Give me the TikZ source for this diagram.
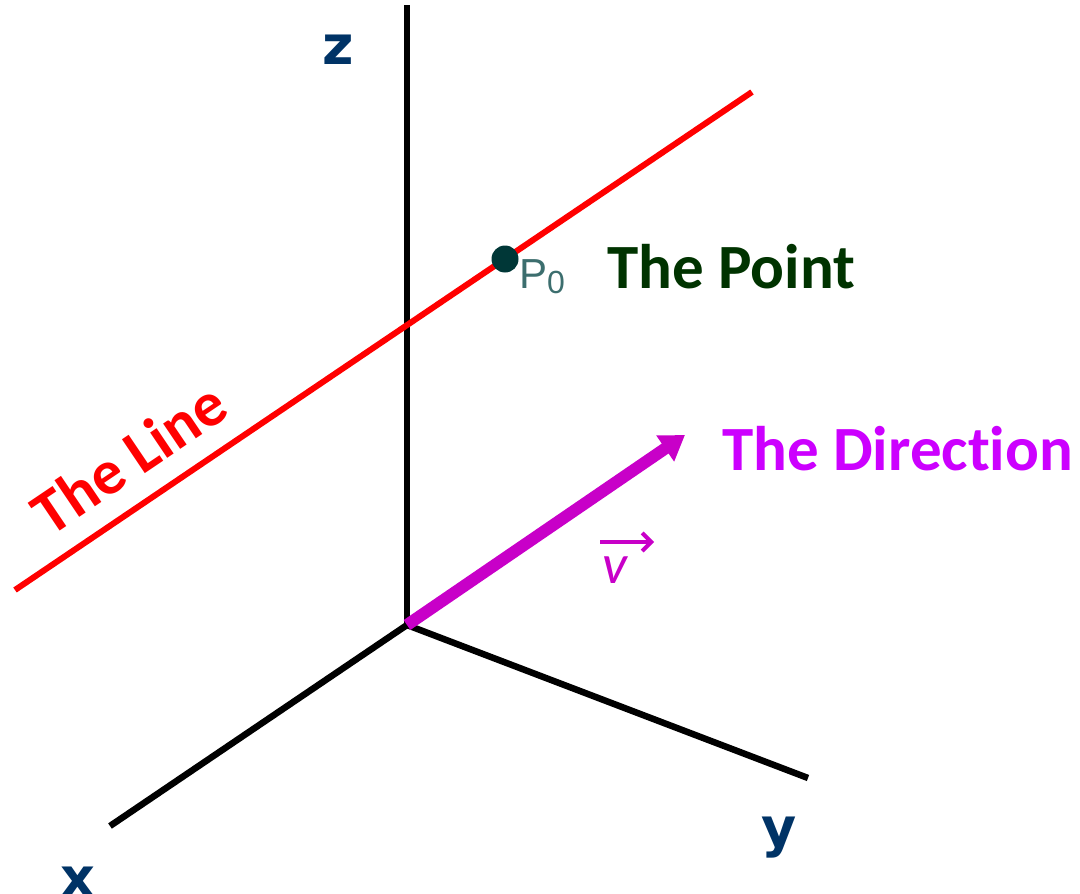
\documentclass[tikz,border=0pt]{standalone}
\usepackage{fontspec}
\setmainfont{Carlito}[Ligatures=NoCommon]
\newfontfamily\axisfont{DejaVu Sans}
\newfontfamily\labfont{Liberation Sans}
\usetikzlibrary{positioning, arrows.meta}
\definecolor{axisblue}{RGB}{0,51,102}
\definecolor{linered}{RGB}{255,0,0}
\definecolor{ptgreen}{RGB}{0,51,0}
\definecolor{dirmag}{RGB}{204,0,255}
\definecolor{vecmag}{RGB}{200,0,200}
\definecolor{ptdark}{RGB}{0,55,55}
\definecolor{ptteal}{RGB}{60,110,110}
\tikzset{
    axis/.style={line width=6.5pt, black},
    axislbl/.style={font=\axisfont\bfseries\fontsize{54}{54}\selectfont, text=axisblue, inner sep=0pt},
    theline/.style={line width=6pt, linered},
    dirvec/.style={-{Triangle[length=24pt,width=30pt]}, line width=12pt, vecmag},
    vecbar/.style={-{Straight Barb[length=9pt,width=18pt]}, line width=4pt, vecmag},
    bigtxt/.style={font=\bfseries\fontsize{63}{63}\selectfont, text=#1, inner sep=0pt}
}

\begin{document}
\begin{tikzpicture}[x=1pt, y=-1pt,
      ptdot/.style={circle, fill=ptdark, minimum size=27pt, inner sep=0pt},
      ptlbl/.style={font=\labfont\fontsize{42}{42}\selectfont, text=ptteal, inner sep=0pt}
    ]
    \useasboundingbox (0,0) rectangle (1080,894);
    \coordinate (O) at (407,625);
    \coordinate (ztop) at (407,5);
    \coordinate (xend) at (110,826);
    \coordinate (yend) at (808,778);
    \coordinate (la) at (15,590);
    \coordinate (lb) at (752,92);
    \coordinate (dtip) at (685,435);
    \coordinate (va) at (600,542);
    \coordinate (vb) at (654,542);
    % axes
    \draw[axis] (O) -- (ztop);
    \draw[axis] (O) -- (xend);
    \draw[axis] (O) -- (yend);
    \node[axislbl] (zlbl) at (338,50) {z};
    \node[axislbl] (xlbl) at (78,882) {x};
    \node[axislbl] (ylbl) at (779,838) {y};
    % the line and its point
    \draw[theline] (la) -- (lb);
    \node[bigtxt=linered, rotate=34] (linelbl) at (129,458) {The Line};
    \node[ptdot] (P0) at (505,259) {};
    \node[ptlbl, anchor=base west] (p0lbl) at (519,288) {P{\fontsize{32}{32}\selectfont\raisebox{-5pt}{0}}};
    \node[bigtxt=ptgreen, anchor=base west] (pointlbl) at (607,288) {The Point};
    % the direction
    \draw[dirvec] (O) -- (dtip);
    \node[bigtxt=dirmag, anchor=base west] (dirlbl) at (722,470) {The Direction};
    \node[font=\itshape\fontsize{56}{56}\selectfont, text=vecmag, inner sep=0pt] (vlbl) at (615,570) {v};
    \draw[vecbar] (va) -- (vb);
\end{tikzpicture}
\end{document}
